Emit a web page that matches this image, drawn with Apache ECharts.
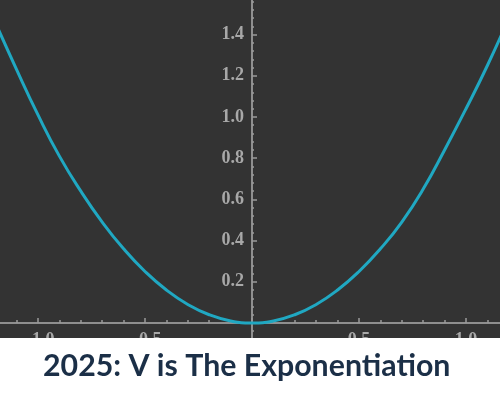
<!DOCTYPE html>
<html><head><meta charset="utf-8">
<script src="https://cdn.jsdelivr.net/npm/echarts@6/dist/echarts.min.js"></script>
<style>html,body{margin:0;padding:0;background:#fff}#c{width:500px;height:400px}</style>
</head><body><div id="c"></div>
<script>
var xValues = [-1.2,-1.1,-1.0,-0.9,-0.8,-0.7,-0.6,-0.5,-0.4,-0.3,-0.2,-0.1,0,0.1,0.2,0.3,0.4,0.5,0.6,0.7,0.8,0.9,1.0,1.1,1.2];
var yValues = [1.46,1.23,1.01,0.81,0.64,0.49,0.36,0.25,0.16,0.09,0.04,0.01,0,0.01,0.04,0.09,0.16,0.25,0.36,0.49,0.65,0.84,1.04,1.25,1.48];
var titleText = '2025: V is The Exponentiation';

var data = xValues.map(function(x,i){return [x, yValues[i]];});
var chart = echarts.init(document.getElementById('c'), null, {renderer:'canvas'});
var labelFont = {color:'#a8a8a8', fontFamily:'Liberation Serif', fontWeight:'bold', fontSize:18};
function fmt(v){ if (Math.abs(v) < 1e-9) return ''; var s = v.toFixed(1); return s.replace('-', '\u2212'); }
chart.setOption({
  backgroundColor:'#333333',
  animation:false,
  grid:{left:-69, top:-6.6, width:642, height:370.8, containLabel:false, outerBoundsMode:'none'},
  xAxis:{type:'value', min:-1.5, max:1.5, interval:0.5, position:'bottom', offset:-41.2,
    axisLine:{onZero:false, lineStyle:{color:'#8f8f8f', width:2}},
    axisTick:{inside:true, length:5, lineStyle:{color:'#9a9a9a', width:1.5}},
    minorTick:{show:true, splitNumber:5, length:3, lineStyle:{color:'#9a9a9a', width:1.5}},
    splitLine:{show:false},
    axisLabel:Object.assign({margin:8, formatter:fmt, hideOverlap:false}, labelFont)
  },
  yAxis:{type:'value', min:-0.2, max:1.6, interval:0.2, position:'left', offset:-321,
    axisLine:{onZero:false, lineStyle:{color:'#8f8f8f', width:2}},
    axisTick:{inside:true, length:5, lineStyle:{color:'#9a9a9a', width:1.5}},
    minorTick:{show:true, splitNumber:5, length:2, lineStyle:{color:'#9a9a9a', width:1.5}},
    splitLine:{show:false},
    axisLabel:Object.assign({margin:8, formatter:fmt, hideOverlap:false}, labelFont)
  },
  series:[{type:'line', data:data, smooth:true, showSymbol:false, symbol:'none',
    lineStyle:{color:'#20a8c2', width:3}, z:3}],
  graphic:[
    {type:'rect', z:100, shape:{x:0, y:338, width:500, height:62}, style:{fill:'#ffffff'}},
    {type:'text', z:101, x:43, y:366, style:{text:titleText, fill:'#1b2f47', fontFamily:'Lato', fontWeight:'bold', fontSize:30.3, align:'left', verticalAlign:'middle'}}
  ]
});
</script></body></html>
